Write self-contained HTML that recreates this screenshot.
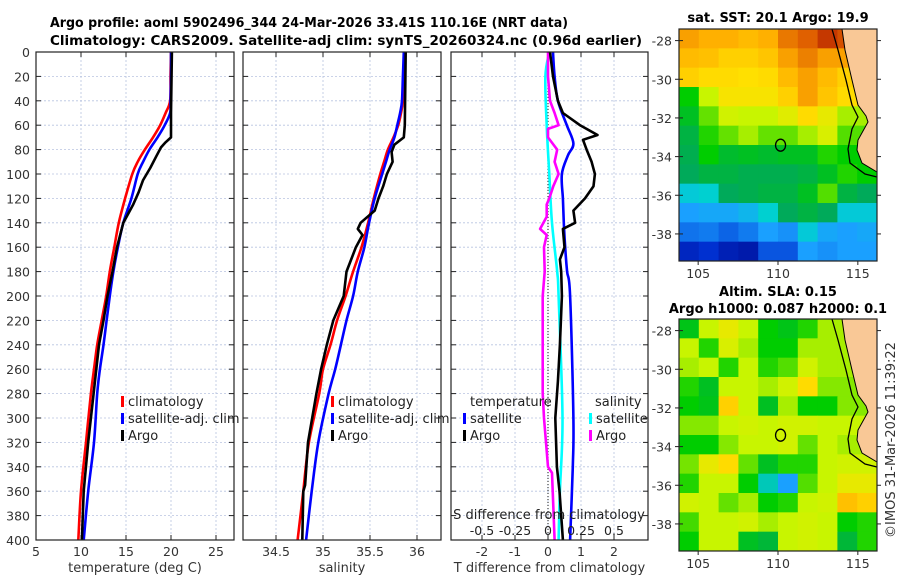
<!DOCTYPE html>
<html><head><meta charset="utf-8"><style>
body{margin:0;background:#fff}
svg{display:block;font-family:"DejaVu Sans","Liberation Sans",sans-serif}
</style></head><body>
<svg id="c" width="900" height="580" viewBox="0 0 900 580" xmlns="http://www.w3.org/2000/svg">
<g font-weight="bold" font-size="13" text-anchor="start">
<text x="50" y="27" textLength="518" lengthAdjust="spacingAndGlyphs">Argo profile: aoml 5902496_344 24-Mar-2026 33.41S 110.16E (NRT data)</text>
<text x="50" y="45" textLength="592" lengthAdjust="spacingAndGlyphs">Climatology: CARS2009. Satellite-adj clim: synTS_20260324.nc (0.96d earlier)</text>
</g>
<g id="plots"></g>
<text x="778" y="22" font-weight="bold" font-size="13" text-anchor="middle">sat. SST: 20.1 Argo: 19.9</text>
<text x="778" y="296" font-weight="bold" font-size="13" text-anchor="middle">Altim. SLA: 0.15</text>
<text x="778" y="313" font-weight="bold" font-size="13" text-anchor="middle">Argo h1000: 0.087 h2000: 0.1</text>
<text transform="translate(895,440) rotate(-90)" font-size="13" text-anchor="middle" fill="#333">©IMOS 31-Mar-2026 11:39:22</text>
</svg>
<script>
const depths=[0,20,40,50,60,70,80,90,100,120,140,160,180,200,220,240,260,280,320,360,400];
const tempClim=[20.0,19.95,19.9,19.4,18.8,18.0,17.1,16.3,15.7,14.9,14.2,13.7,13.2,12.8,12.3,11.8,11.45,11.1,10.55,10.0,9.7];
const tempSat=[20.0,20.0,19.95,19.9,19.3,18.5,17.6,16.9,16.3,15.6,14.7,14.1,13.6,13.2,12.85,12.5,12.1,11.8,11.45,10.8,10.3];
const argoDepths=[0,50,70,74,78,85,95,105,115,125,140,160,180,200,220,240,260,280,320,360,400];
const tempArgo=[20.1,20.0,20.0,19.4,18.9,18.4,17.7,16.9,16.4,15.8,14.7,14.0,13.5,12.95,12.5,12.0,11.7,11.4,10.8,10.3,10.1];
const salClim=[35.87,35.86,35.85,35.83,35.8,35.75,35.69,35.65,35.61,35.54,35.48,35.41,35.32,35.24,35.15,35.08,35.0,34.96,34.85,34.79,34.73];
const salSat=[35.86,35.85,35.84,35.82,35.79,35.76,35.71,35.67,35.63,35.55,35.49,35.44,35.37,35.32,35.25,35.19,35.13,35.06,34.95,34.88,34.82];
const salArgoD=[0,60,70,76,82,90,100,110,120,130,140,145,150,160,180,200,220,240,260,280,320,355,360,400];
const salArgo=[35.88,35.87,35.86,35.76,35.73,35.74,35.68,35.64,35.59,35.55,35.40,35.37,35.42,35.35,35.25,35.22,35.11,35.04,34.98,34.93,34.84,34.81,34.79,34.78];
const dDepths=[0,20,40,50,60,68,72,80,90,100,110,120,130,140,145,160,170,180,200,240,270,300,340,360,380,400];
const tDiffArgo=[0.06,0.15,0.3,0.45,0.97,1.5,1.06,1.17,1.32,1.42,1.38,1.12,0.77,0.82,0.45,0.5,0.36,0.4,0.42,0.36,0.3,0.22,0.27,0.35,0.4,0.45];
const tdD=[0,20,40,60,75,85,100,120,140,160,180,200,300,340,400];
const tDiffSat=[0.15,0.2,0.3,0.57,0.77,0.6,0.42,0.45,0.48,0.52,0.58,0.67,0.77,0.75,0.67];
const sdD=[0,20,60,100,140,180,200,300,360,400];
const sDiffSat=[0.01,-0.02,-0.01,0.01,0.03,0.07,0.08,0.11,0.09,0.08];
const smD=[0,20,40,50,60,63,70,80,90,100,110,120,125,135,145,150,160,180,200,280,300,340,345,400];
const sDiffArgo=[0,0,0.015,0.05,0.08,0.0,0.0,0.07,0.05,0.08,0.04,0.01,-0.01,-0.01,-0.06,-0.01,-0.03,-0.025,-0.04,-0.04,-0.03,0,0.03,0.05];
const depthTicks=[0,20,40,60,80,100,120,140,160,180,200,220,240,260,280,300,320,340,360,380,400];
const tempTicks=[5,10,15,20,25];
const salTicks=[34.5,35,35.5,36];
const tdTicks=[-2,-1,0,1,2];
const sdTicks=[-0.5,-0.25,0,0.25,0.5];
const sdTickLabels=["-0.5","-0.25","0","0.25","0.5"];
const latTicks=[-28,-30,-32,-34,-36,-38];
const lonTicks=[105,110,115];
const sstGrid=[
[0.8,0.78,0.78,0.76,0.78,0.85,0.88,0.93,0.9,0.9],
[0.76,0.75,0.72,0.72,0.74,0.8,0.84,0.8,0.8,0.8],
[0.72,0.7,0.7,0.69,0.7,0.76,0.8,0.76,0.72,0.72],
[0.5,0.62,0.68,0.68,0.68,0.72,0.8,0.74,0.7,0.7],
[0.47,0.56,0.63,0.62,0.62,0.65,0.7,0.66,0.6,0.6],
[0.44,0.52,0.56,0.6,0.56,0.56,0.6,0.64,0.55,0.55],
[0.43,0.5,0.46,0.47,0.46,0.47,0.47,0.52,0.5,0.5],
[0.42,0.44,0.44,0.43,0.43,0.43,0.44,0.47,0.52,0.5],
[0.36,0.37,0.42,0.43,0.44,0.44,0.47,0.55,0.44,0.42],
[0.3,0.31,0.31,0.33,0.37,0.42,0.44,0.42,0.36,0.36],
[0.24,0.25,0.22,0.25,0.3,0.28,0.36,0.31,0.3,0.31],
[0.12,0.15,0.1,0.08,0.2,0.2,0.3,0.28,0.3,0.3]];
const slaGrid=[
[0.48,0.62,0.66,0.62,0.5,0.48,0.52,0.6,0.6,0.6],
[0.62,0.52,0.64,0.6,0.5,0.5,0.6,0.6,0.6,0.6],
[0.6,0.62,0.52,0.62,0.52,0.55,0.63,0.6,0.6,0.6],
[0.52,0.47,0.62,0.62,0.6,0.63,0.7,0.58,0.58,0.58],
[0.5,0.48,0.72,0.62,0.47,0.6,0.5,0.5,0.58,0.58],
[0.58,0.58,0.62,0.63,0.62,0.63,0.63,0.62,0.62,0.62],
[0.5,0.5,0.58,0.62,0.62,0.63,0.56,0.62,0.6,0.6],
[0.57,0.66,0.7,0.56,0.47,0.52,0.52,0.62,0.63,0.63],
[0.52,0.62,0.62,0.5,0.38,0.3,0.55,0.62,0.66,0.66],
[0.63,0.62,0.56,0.6,0.5,0.52,0.62,0.63,0.75,0.72],
[0.54,0.62,0.62,0.63,0.6,0.62,0.63,0.62,0.5,0.52],
[0.5,0.62,0.62,0.47,0.45,0.62,0.63,0.62,0.45,0.52]];
const argoLon=110.16, argoLat=-33.41;

const NS="http://www.w3.org/2000/svg";
const root=document.getElementById('plots');
function mk(tag,attrs,parent){const e=document.createElementNS(NS,tag);for(const k in attrs)e.setAttribute(k,attrs[k]);(parent||root).appendChild(e);return e;}
const Y0=52,Y1=540;
const yD=d=>Y0+d*(Y1-Y0)/400;
function panel(name,x0,x1,xs,ticks,labels,xlabel){
  const g=mk('g',{});
  
  
  mk('rect',{x:x0,y:Y0,width:x1-x0,height:Y1-Y0,fill:'#fff'},g);
  depthTicks.forEach(d=>{const l=mk('line',{x1:x0,x2:x1,y1:yD(d),y2:yD(d),stroke:'#b8c4e0','stroke-dasharray':'2,2','stroke-width':0.8},g);
    
    mk('line',{x1:x0,x2:x0+5,y1:yD(d),y2:yD(d),stroke:'#222'},g);mk('line',{x1:x1-5,x2:x1,y1:yD(d),y2:yD(d),stroke:'#222'},g);});
  ticks.forEach((t,i)=>{const x=xs(t);mk('line',{x1:x,x2:x,y1:Y0,y2:Y1,stroke:'#b8c4e0','stroke-dasharray':'2,2','stroke-width':0.8},g);
    mk('line',{x1:x,x2:x,y1:Y1-5,y2:Y1,stroke:'#222'},g);mk('line',{x1:x,x2:x,y1:Y0,y2:Y0+5,stroke:'#222'},g);
    if(labels){const tx=mk('text',{x:x,y:Y1+16,'font-size':12.5,'text-anchor':'middle',fill:'#333'},g);tx.textContent=labels[i];
      }});
  if(xlabel){const t=mk('text',{x:(x0+x1)/2,y:Y1+32,'font-size':13,'text-anchor':'middle',fill:'#333'},g);t.textContent=xlabel;
    }
  return g;
}
function frame(g,x0,x1){mk('rect',{x:x0,y:Y0,width:x1-x0,height:Y1-Y0,fill:'none',stroke:'#222','stroke-width':1.2},g);}
function line(g,name,ds,vs,xs,color,smooth){
  const P=ds.map((d,i)=>[xs(vs[i]),yD(d)]);
  let dstr='M'+P[0][0].toFixed(1)+','+P[0][1].toFixed(1);
  for(let i=0;i<P.length-1;i++){
    if(smooth){const p0=P[Math.max(0,i-1)],p1=P[i],p2=P[i+1],p3=P[Math.min(P.length-1,i+2)];
      const c1=[p1[0]+(p2[0]-p0[0])/6,p1[1]+(p2[1]-p0[1])/6],c2=[p2[0]-(p3[0]-p1[0])/6,p2[1]-(p3[1]-p1[1])/6];
      dstr+=' C'+c1.map(v=>v.toFixed(1))+' '+c2.map(v=>v.toFixed(1))+' '+p2.map(v=>v.toFixed(1));}
    else dstr+=' L'+P[i+1][0].toFixed(1)+','+P[i+1][1].toFixed(1);}
  const l=mk('path',{d:dstr,fill:'none',stroke:color,'stroke-width':2.6,'stroke-linejoin':'round'},g);
  }
function legend(g,x,y,items){items.forEach((it,i)=>{const yy=y+i*17;
  if(it[1])mk('rect',{x:x,y:yy-10,width:3,height:11,fill:it[1]},g);
  const t=mk('text',{x:x+(it[1]?7:0),y:yy,'font-size':13,fill:'#222'},g);t.textContent=it[0];
  });}

const xT=t=>36+(t-5)*9;
let g1=panel('temperature-panel',36,234,xT,tempTicks,tempTicks.map(String),'temperature (deg C)');
depthTicks.forEach(d=>{const t=mk('text',{x:30,y:yD(d)+5,'font-size':12.5,'text-anchor':'end',fill:'#333'},g1);t.textContent=d;
  });
line(g1,'temp-climatology-line',depths,tempClim,xT,'#f00',true);
line(g1,'temp-satellite-line',depths,tempSat,xT,'#00f',true);
line(g1,'temp-argo-line',argoDepths,tempArgo,xT,'#000',false);
frame(g1,36,234);
legend(g1,121,406,[['climatology','#f00'],['satellite-adj. clim','#00f'],['Argo','#000']]);
const xS=s=>276+(s-34.5)*94;
let g2=panel('salinity-panel',243,441,xS,salTicks,salTicks.map(String),'salinity');
line(g2,'sal-climatology-line',depths,salClim,xS,'#f00',true);
line(g2,'sal-satellite-line',depths,salSat,xS,'#00f',true);
line(g2,'sal-argo-line',salArgoD,salArgo,xS,'#000',false);
frame(g2,243,441);
const xTD=v=>548+v*33, xSD=v=>548+v*132;
let g3=panel('difference-panel',451,648,xTD,tdTicks,tdTicks.map(String),'T difference from climatology');
mk('line',{x1:548,x2:548,y1:Y0,y2:Y1,stroke:'#444','stroke-dasharray':'1,2','stroke-width':1.2},g3);
line(g3,'t-diff-satellite-line',tdD,tDiffSat,xTD,'#00f',true);
line(g3,'s-diff-satellite-line',sdD,sDiffSat,xSD,'#0ff',true);
line(g3,'s-diff-argo-line',smD,sDiffArgo,xSD,'#f0f',false);
line(g3,'t-diff-argo-line',dDepths,tDiffArgo,xTD,'#000',false);
sdTicks.forEach((v,i)=>{const t=mk('text',{x:xSD(v),y:535,'font-size':12.5,'text-anchor':'middle',fill:'#222'},g3);t.textContent=sdTickLabels[i];
  });
const st=mk('text',{x:549,y:519,'font-size':13,'text-anchor':'middle',fill:'#222'},g3);st.textContent='S difference from climatology';

frame(g3,451,648);
legend(g3,470,406,[['temperature',null]]);
legend(g3,463,423,[['satellite','#00f'],['Argo','#000']]);
legend(g3,595,406,[['salinity',null]]);
legend(g3,589,423,[['satellite','#0ff'],['Argo','#f0f']]);
legend(g2,331,406,[['climatology','#f00'],['satellite-adj. clim','#00f'],['Argo','#000']]);

const stops=[[0,[0,0,128]],[0.15,[0,48,208]],[0.3,[26,160,255]],[0.37,[0,208,208]],[0.42,[0,170,90]],[0.5,[0,205,0]],[0.56,[100,225,0]],[0.62,[200,245,0]],[0.69,[255,224,0]],[0.78,[255,176,0]],[0.88,[224,96,0]],[1,[160,0,0]]];
function cmap(v){for(let i=1;i<stops.length;i++){if(v<=stops[i][0]){const a=stops[i-1],b=stops[i],f=(v-a[0])/(b[0]-a[0]);
  return 'rgb('+a[1].map((c,k)=>Math.round(c+(b[1][k]-c)*f)).join(',')+')';}}return 'rgb(160,0,0)';}
const LON0=103.8,LON1=116.2,LAT0=-27.4,LAT1=-39.4;
function map(name,grid,mx0,my0,mx1,my1){
  const g=mk('g',{});
  const lx=lo=>mx0+(lo-LON0)/(LON1-LON0)*(mx1-mx0), ly=la=>my0+(la-LAT0)/(LAT1-LAT0)*(my1-my0);
  const rows=grid.length,cols=grid[0].length,cw=(mx1-mx0)/cols,ch=(my1-my0)/rows;
  grid.forEach((r,i)=>r.forEach((v,j)=>{const c=mk('rect',{x:mx0+j*cw,y:my0+i*ch,width:cw+0.5,height:ch+0.5,fill:cmap(v)},g);
    }));
  const s=(my1-my0)/232;
  const land=[[842,0],[877,0],[877,143],[862,134],[857,121],[858,111],[868,93],[866,87],[858,76],[852,51],[845,21]].map(p=>p[0]+','+(my0+p[1]*s)).join(' ');
  const L=mk('polygon',{points:land,fill:'#f9c896',stroke:'#000','stroke-width':1},g);
  const shelf=[[832,0],[838,21],[846,51],[852,76],[858,88],[852,100],[848,120],[850,134],[865,145],[877,148]].map(p=>p[0]+','+(my0+p[1]*s)).join(' ');
  mk('polyline',{points:shelf,fill:'none',stroke:'#000','stroke-width':1.3},g);
  const m=mk('ellipse',{cx:lx(argoLon),cy:ly(argoLat),rx:5,ry:6,fill:'none',stroke:'#000','stroke-width':1.3},g);
  
  mk('rect',{x:mx0,y:my0,width:mx1-mx0,height:my1-my0,fill:'none',stroke:'#222','stroke-width':1.2},g);
  latTicks.forEach(la=>{const y=ly(la);mk('line',{x1:mx0,x2:mx0+4,y1:y,y2:y,stroke:'#222'},g);mk('line',{x1:mx1,x2:mx1+4,y1:y,y2:y,stroke:'#222'},g);
    mk('line',{x1:mx0-4,x2:mx0,y1:y,y2:y,stroke:'#222'},g);
    const t=mk('text',{x:mx0-7,y:y+5,'font-size':12.5,'text-anchor':'end',fill:'#333'},g);t.textContent=la;
    });
  lonTicks.forEach(lo=>{const x=lx(lo);mk('line',{x1:x,x2:x,y1:my1,y2:my1+4,stroke:'#222'},g);
    const t=mk('text',{x:x,y:my1+17,'font-size':12.5,'text-anchor':'middle',fill:'#333'},g);t.textContent=lo;
    });
}
map('sst-map',sstGrid,679,29,877,261);
map('sla-map',slaGrid,679,319,877,551);
</script>
</body></html>
